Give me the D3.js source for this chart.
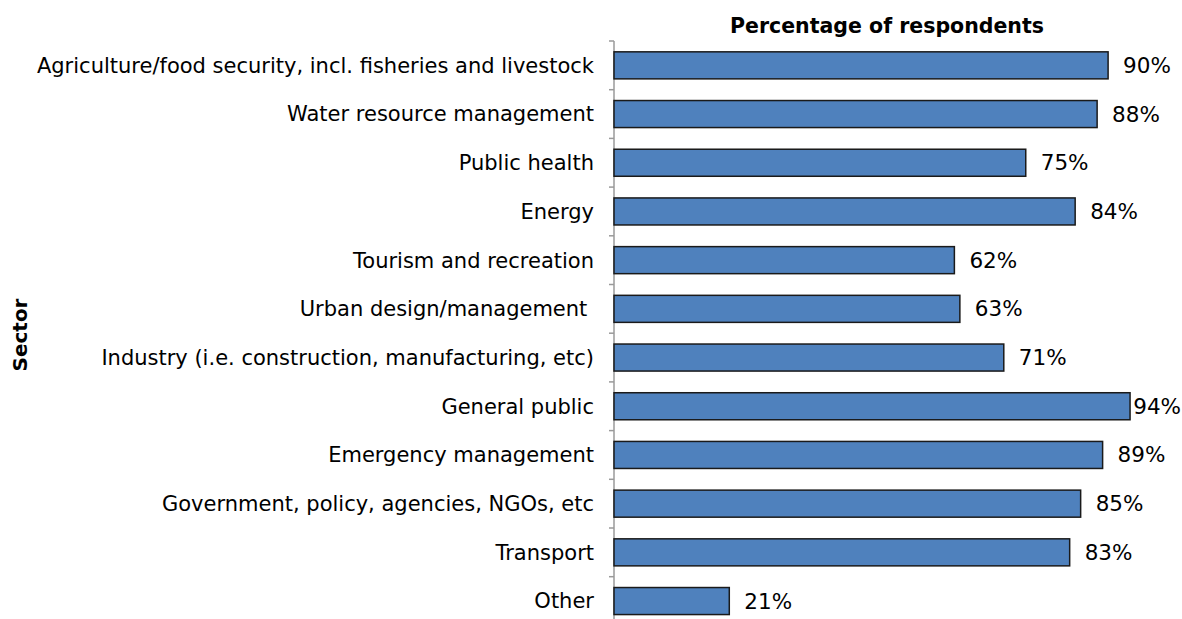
<!DOCTYPE html>
<html>
<head>
<meta charset="utf-8">
<script src="https://cdn.jsdelivr.net/npm/d3@7/dist/d3.min.js"></script>
<style>
  html, body { margin: 0; padding: 0; background: #fff; }
  svg { display: block; }
  text { font-family: "DejaVu Sans", Verdana, sans-serif; fill: #000; }
</style>
</head>
<body>
<svg id="chart" width="1182" height="619"></svg>
<script>
// Sectors and share of respondents (%)
const sectors = [
  "Agriculture/food security, incl. fisheries and livestock",
  "Water resource management",
  "Public health",
  "Energy",
  "Tourism and recreation",
  "Urban design/management ",
  "Industry (i.e. construction, manufacturing, etc)",
  "General public",
  "Emergency management",
  "Government, policy, agencies, NGOs, etc",
  "Transport",
  "Other"
];
const percents = [90, 88, 75, 84, 62, 63, 71, 94, 89, 85, 83, 21];

const W = 1182, H = 619;
const plotLeft = 614, plotTop = 41;
const plotRight = 1163;
const bandStep = 48.7;

const svg = d3.select("#chart");

const x = d3.scaleLinear().domain([0, 100]).range([plotLeft, plotRight]);
const y = d3.scaleBand()
  .domain(sectors)
  .range([plotTop, plotTop + bandStep * sectors.length])
  .paddingInner(0.445)
  .paddingOuter(0.2225);

// category axis with boundary ticks
const boundaries = d3.range(sectors.length + 1).map(i => plotTop + i * bandStep);
svg.append("line")
  .attr("x1", plotLeft).attr("x2", plotLeft)
  .attr("y1", plotTop).attr("y2", H + 10)
  .attr("stroke", "#9a9a9a").attr("stroke-width", 1.5);
svg.selectAll(".tick").data(boundaries).join("line")
  .attr("class", "tick")
  .attr("x1", plotLeft - 5).attr("x2", plotLeft)
  .attr("y1", d => d).attr("y2", d => d)
  .attr("stroke", "#9a9a9a").attr("stroke-width", 1.5);

// bars
svg.selectAll(".bar").data(sectors).join("rect")
  .attr("class", "bar")
  .attr("x", x(0))
  .attr("y", d => y(d))
  .attr("width", (d, i) => x(percents[i]) - x(0))
  .attr("height", y.bandwidth())
  .attr("fill", "#4F81BD")
  .attr("stroke", "#1a1a1a")
  .attr("stroke-width", 1.5);

// category labels
svg.selectAll(".cat").data(sectors).join("text")
  .attr("class", "cat")
  .attr("x", 594)
  .attr("y", d => y(d) + y.bandwidth() / 2)
  .attr("dy", "0.35em")
  .attr("text-anchor", "end")
  .attr("font-size", 21)
  .style("white-space", "pre")
  .text(d => d);

// value labels, kept inside the canvas
svg.selectAll(".val").data(sectors).join("text")
  .attr("class", "val")
  .attr("y", d => y(d) + y.bandwidth() / 2)
  .attr("dy", "0.35em")
  .attr("font-size", 21.5)
  .text((d, i) => percents[i] + "%")
  .each(function(d, i) {
    const w = this.getComputedTextLength();
    const px = Math.min(x(percents[i]) + 15, W - w - 1);
    d3.select(this).attr("x", px);
  });

// titles
svg.append("text")
  .attr("x", 887).attr("y", 26)
  .attr("dy", "0.35em")
  .attr("text-anchor", "middle")
  .attr("font-size", 20.5)
  .attr("font-weight", "bold")
  .text("Percentage of respondents");

svg.append("text")
  .attr("transform", "translate(20,335) rotate(-90)")
  .attr("dy", "0.35em")
  .attr("text-anchor", "middle")
  .attr("font-size", 20)
  .attr("font-weight", "bold")
  .text("Sector");
</script>
</body>
</html>
